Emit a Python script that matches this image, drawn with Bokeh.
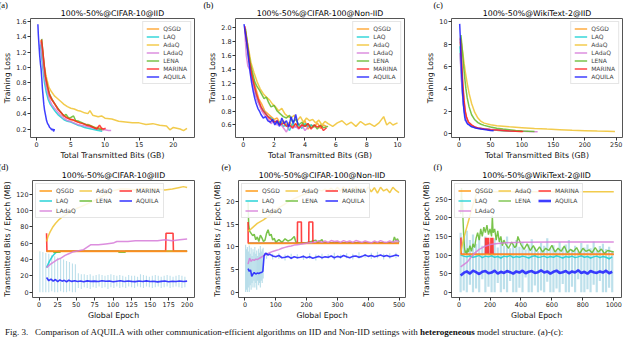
from bokeh.plotting import figure
from bokeh.models import (Range1d, FixedTicker, Legend, LegendItem, Title, Div,
                          NumeralTickFormatter)
from bokeh.layouts import column, row
from bokeh.embed import file_html
from bokeh.resources import INLINE

# ---------------- data: panel (a) CIFAR-10 IID, loss vs GB ----------------
a_qsgd_x = [0.6,0.8,1.0,1.2,1.4,1.7,2.0,2.4,2.8,3.2,3.6,4.0,4.5,5.0,5.5,6.0,6.5,7.0,7.5,8.0,8.5,9.0,9.5,9.8]
a_qsgd_y = [1.35,1.25,1.05,0.88,0.76,0.66,0.60,0.56,0.50,0.45,0.41,0.37,0.35,0.32,0.31,0.29,0.28,0.26,0.26,0.24,0.22,0.22,0.20,0.19]
a_laq_x = [0.55,0.75,0.95,1.15,1.4,1.7,2.0,2.4,2.8,3.2,3.6,4.0,4.5,5.0,5.5,6.0,6.5,7.0,7.5,8.0,8.5,9.0,9.6]
a_laq_y = [1.30,1.12,0.95,0.80,0.68,0.58,0.52,0.47,0.42,0.38,0.35,0.32,0.30,0.29,0.27,0.25,0.24,0.22,0.21,0.20,0.19,0.18,0.17]
a_adaq_x = [0.7,0.9,1.1,1.4,1.8,2.2,2.6,3.0,3.5,4.0,4.5,5.0,5.5,6.0,6.5,7.0,7.5,7.8,8.2,8.6,9.0,9.5,10.0,11.0,12.0,13.0,14.0,15.0,16.0,17.0,18.0,19.0,19.5,20.0,20.5,21.0,21.5,22.0]
a_adaq_y = [1.33,1.18,1.02,0.88,0.74,0.68,0.63,0.60,0.56,0.52,0.49,0.47,0.46,0.44,0.43,0.41,0.40,0.44,0.38,0.37,0.36,0.37,0.34,0.33,0.30,0.29,0.28,0.28,0.26,0.27,0.25,0.24,0.19,0.22,0.21,0.20,0.18,0.21]
a_ladaq_x = [0.6,0.8,1.0,1.2,1.5,1.8,2.2,2.6,3.0,3.5,4.0,4.5,5.0,5.5,6.0,6.5,7.0,7.5,8.0,8.5,9.0,9.5,10.0,10.5,10.9]
a_ladaq_y = [1.33,1.15,0.98,0.85,0.72,0.60,0.52,0.47,0.43,0.38,0.34,0.31,0.30,0.28,0.26,0.25,0.24,0.23,0.22,0.21,0.20,0.19,0.19,0.18,0.18]
a_lena_x = [0.75,0.9,1.1,1.3,1.6,1.9,2.3,2.7,3.1,3.5,4.0,4.3,4.7,5.0,5.4,5.7,6.2,6.7,7.2,7.7,8.2,8.7,9.2,9.6]
a_lena_y = [1.37,1.20,1.02,0.88,0.75,0.65,0.58,0.52,0.47,0.42,0.37,0.39,0.34,0.35,0.37,0.31,0.30,0.28,0.26,0.25,0.23,0.21,0.20,0.19]
a_marina_x = [0.7,0.9,1.1,1.3,1.6,1.9,2.3,2.7,3.1,3.5,3.9,4.3,4.8,5.3,5.8,6.3,6.8,7.3,7.8,8.3,8.8,9.2,9.5,9.8,10.1]
a_marina_y = [1.36,1.22,1.04,0.88,0.75,0.64,0.57,0.52,0.46,0.42,0.38,0.35,0.33,0.32,0.30,0.28,0.27,0.25,0.24,0.22,0.20,0.25,0.21,0.20,0.21]
a_aquila_x = [0.18,0.25,0.35,0.45,0.55,0.65,0.75,0.85,0.95,1.05,1.15,1.3,1.45,1.6,1.75,1.9,2.05,2.2,2.35,2.5,2.6]
a_aquila_y = [1.56,1.42,1.28,1.15,1.05,0.98,0.86,0.72,0.62,0.52,0.45,0.38,0.31,0.27,0.25,0.22,0.21,0.19,0.20,0.17,0.20]

# ---------------- panel (b) CIFAR-100 Non-IID ----------------
b_qsgd_x = [0.1,0.25,0.4,0.55,0.7,0.85,1.0,1.2,1.4,1.6,1.8,2.0,2.2,2.4,2.6,2.8,3.0,3.2,3.4,3.6,3.8,4.0,4.2,4.4,4.6,4.8,5.0,5.2,5.4]
b_qsgd_y = [2.00,1.80,1.55,1.35,1.22,1.10,0.98,0.90,0.80,0.76,0.72,0.68,0.70,0.62,0.66,0.60,0.64,0.58,0.62,0.56,0.60,0.66,0.54,0.60,0.57,0.63,0.55,0.60,0.58]
b_laq_x = [0.1,0.25,0.4,0.55,0.7,0.85,1.0,1.2,1.4,1.6,1.8,2.0,2.2,2.4,2.6,2.8,3.0,3.2,3.4,3.6,3.8,4.0,4.2,4.4,4.6]
b_laq_y = [1.98,1.70,1.48,1.30,1.15,1.02,0.92,0.84,0.78,0.72,0.70,0.66,0.62,0.65,0.58,0.60,0.52,0.62,0.57,0.60,0.55,0.62,0.58,0.60,0.57]
b_adaq_x = [0.1,0.3,0.5,0.7,0.9,1.1,1.3,1.5,1.7,1.9,2.1,2.3,2.5,2.7,2.9,3.1,3.3,3.5,3.7,3.9,4.1,4.3,4.5,4.7,4.9,5.1,5.3,5.5,5.8,6.1,6.4,6.7,7.0,7.3,7.6,7.9,8.2,8.5,8.8,9.1,9.3,9.5,9.7,10.0]
b_adaq_y = [2.00,1.75,1.50,1.35,1.22,1.12,1.05,1.00,0.96,0.90,0.86,0.80,0.84,0.76,0.72,0.70,0.74,0.66,0.72,0.64,0.70,0.66,0.68,0.63,0.67,0.60,0.65,0.62,0.58,0.63,0.66,0.60,0.64,0.58,0.65,0.60,0.62,0.58,0.63,0.72,0.60,0.64,0.60,0.63]
b_ladaq_x = [0.1,0.2,0.3,0.45,0.6,0.75,0.9,1.05,1.2,1.4,1.6,1.8,2.0,2.2,2.4,2.6,2.8,3.0,3.2,3.4,3.6,3.8,4.0,4.2]
b_ladaq_y = [1.95,1.60,1.45,1.38,1.20,1.05,0.95,0.88,0.80,0.74,0.70,0.62,0.66,0.60,0.62,0.56,0.50,0.60,0.55,0.58,0.54,0.60,0.52,0.57]
b_lena_x = [0.15,0.3,0.45,0.6,0.75,0.9,1.05,1.2,1.35,1.5,1.65,1.8,2.0,2.2,2.4,2.6,2.8,3.0,3.2,3.4,3.6,3.8,4.0,4.2,4.4,4.6,4.8,5.0,5.2,5.5]
b_lena_y = [1.98,1.72,1.50,1.35,1.22,1.15,1.10,1.04,0.98,1.00,0.92,0.86,0.88,0.80,0.76,0.72,0.70,0.74,0.64,0.68,0.60,0.64,0.58,0.62,0.56,0.60,0.54,0.60,0.56,0.58]
b_marina_x = [0.1,0.25,0.4,0.55,0.7,0.85,1.0,1.15,1.3,1.45,1.6,1.8,2.0,2.2,2.4,2.6,2.8,3.0,3.2,3.4,3.6,3.8,4.0,4.2,4.4,4.6,4.8,5.0,5.2,5.4]
b_marina_y = [2.02,1.75,1.52,1.32,1.18,1.05,0.95,0.86,0.80,0.76,0.72,0.68,0.64,0.66,0.60,0.63,0.58,0.60,0.56,0.62,0.55,0.60,0.58,0.62,0.54,0.60,0.57,0.59,0.52,0.56]
b_aquila_x = [0.05,0.15,0.25,0.35,0.45,0.55,0.65,0.75,0.85,0.95,1.05,1.15,1.3,1.45,1.6,1.75,1.9,2.05,2.2,2.35,2.5,2.65,2.8,2.95,3.1,3.25,3.4,3.55]
b_aquila_y = [2.05,1.90,1.75,1.55,1.35,1.20,1.08,0.98,0.90,0.84,0.80,0.75,0.70,0.72,0.66,0.64,0.68,0.60,0.66,0.58,0.70,0.62,0.66,0.57,0.72,0.62,0.75,0.60]

# ---------------- panel (c) WikiText-2 IID ----------------
c_qsgd_x = [2,4,6,8,10,12,15,20,25,30,40,50,60,70,80,90,100]
c_qsgd_y = [8.2,6.2,4.2,2.8,1.9,1.4,1.0,0.75,0.6,0.5,0.42,0.36,0.32,0.28,0.25,0.22,0.2]
c_laq_x = [1.5,3,5,7,9,11,14,18,24,30,40,50,60,70,80,88]
c_laq_y = [7.8,5.8,3.9,2.6,1.8,1.3,0.95,0.72,0.58,0.5,0.42,0.36,0.32,0.28,0.25,0.22]
c_adaq_x = [2,4,6,8,10,13,16,20,25,30,35,40,50,60,80,100,120,140,160,180,200,220,235,248]
c_adaq_y = [8.6,8.0,7.2,6.3,5.5,4.5,3.6,2.7,1.9,1.4,1.1,0.95,0.8,0.72,0.62,0.55,0.48,0.42,0.37,0.32,0.28,0.24,0.22,0.2]
c_ladaq_x = [1.5,3,5,7,9,11,14,18,24,30,40,50,60,70,80,90,100,110,125]
c_ladaq_y = [7.2,5.6,3.8,2.6,1.8,1.3,0.95,0.75,0.6,0.52,0.45,0.4,0.36,0.32,0.28,0.25,0.23,0.2,0.18]
c_lena_x = [3,5,7,9,11,13,16,20,25,30,35,40,50,60,70,80,90,100,110,120]
c_lena_y = [8.8,7.6,6.2,5.0,4.0,3.2,2.4,1.7,1.25,1.0,0.85,0.75,0.6,0.5,0.42,0.36,0.3,0.26,0.23,0.2]
c_marina_x = [2,4,6,8,10,12,15,20,25,30,40,50,60,70,80,90,102]
c_marina_y = [8.5,6.5,4.5,3.0,2.0,1.5,1.05,0.8,0.62,0.52,0.43,0.37,0.33,0.29,0.25,0.22,0.2]
c_aquila_x = [1,2,3,4,5,6,7,8,9,10,11,12,14,16,18,20,23,26,30,35,40,45,50,55]
c_aquila_y = [9.8,8.6,7.0,5.6,4.4,3.4,2.6,2.0,1.5,1.2,1.15,1.0,0.85,0.8,0.7,0.62,0.58,0.52,0.48,0.42,0.38,0.33,0.3,0.28]

# ---------------- panel (d) CIFAR-10 IID, MB per epoch ----------------
d_flat_e = [10, 200]
d_qsgd_v = [50, 50]
d_laq_e = [10,12,14,16,18,20,22,24,26,200]
d_laq_v = [30,34,38,41,44,46,48,49,50,50]
d_lena_e = [10,19,20,28,29,107,108,116,117,200]
d_lena_v = [50,50,49,49,50,50,49,49,50,50]
d_marina_e = [10,10.5,171,171.5,181,181.5,200]
d_marina_v = [72,50,50,72,72,50,50]
d_adaq_e = [10,12,15,18,22,26,30,35,40,45,50,55,60,65,70,75,80,85,90,95,100,110,120,130,140,150,160,170,180,190,195,200]
d_adaq_v = [62,68,74,79,84,88,91,94,97,100,102,104,106,108,110,112,115,117,120,122,124,126,126,125,127,126,126,125,126,128,129,128]
d_ladaq_e = [10,15,20,25,30,35,40,45,50,55,60,65,70,75,80,90,100,105,110,120,130,140,150,160,170,180,190,200]
d_ladaq_v = [30,34,37,40,42,45,47,49,50,51,52,55,58,58,58,59,60,62,62,62,63,63,63,63,64,63,64,65]
d_aquila_e = [10,13,16,19,22,25,28,31,34,37,40,44,48,52,56,60,65,70,75,80,85,90,95,100,105,110,115,120,125,130,135,140,145,150,155,160,165,170,175,180,185,190,195,200]
d_aquila_v = [18,14,16,13.5,15.5,13,15,13.5,14.5,12.8,14.6,13.2,14,13,13.6,12.8,13.8,13.2,13.5,13,14,13.3,13.6,12.8,13.4,13.9,13,13.6,13.2,12.9,13.6,13.1,13.8,13,13.4,12.6,13.2,13.7,12.8,13.4,13,13.6,13.1,13.5]
d_band_e = [1,5,9,13,17,21,25,29,33,37,41,45,49,53,57,61,65,69,73,77,81,85,89,93,97,101,105,109,113,117,121,125,129,133,137,141,145,149,153,157,161,165,169,173,177,181,185,189,193,197]
d_band_lo = [0,0,0,0,1,0,0,1,0,0,1,0,0,5,4,6,5,4,6,5,7,5,6,4,6,5,7,5,6,5,7,6,5,7,6,5,7,6,5,6,7,5,6,7,5,6,7,6,5,6]
d_band_hi = [50,49,48,47,45,44,42,41,40,38,37,35,34,23,22,22,21,22,20,21,22,21,20,21,22,21,20,21,20,19,21,20,20,19,22,21,20,19,20,21,20,19,20,21,20,19,20,21,20,19]

# ---------------- panel (e) CIFAR-100 Non-IID ----------------
e_flat_e = [10, 500]
e_qsgd_v = [10.8, 10.8]
e_laq_v = [10.8, 10.8]
e_marina_e = [10,10.5,170,170.5,183,183.5,207,207.5,220,220.5,500]
e_marina_v = [15.5,10.8,10.8,15.5,15.5,10.8,10.8,15.5,15.5,10.8,10.8]
e_lena_e = [10,12,15,20,25,30,35,40,45,50,55,60,65,70,75,80,85,90,95,100,110,120,130,140,150,160,165,170,200,230,235,250,255,300,480,485,490,495,500]
e_lena_v = [20,15,13.5,13,12.5,12.8,11.6,12.2,11.2,12.6,12,11.2,11.5,13,13.8,12.5,12.8,11.5,11.9,11,11.6,11,11.8,11.3,11.6,12.3,11.1,10.9,10.9,11.5,10.9,11.6,10.9,10.9,11,12.2,11.3,11.8,11]
e_ladaq_e = [10,15,20,25,30,35,40,45,50,60,70,80,90,100,110,120,130,140,150,160,170,180,190,200,210,220,230,240,250,260,270,280,290,300,310,320,330,340,350,360,370,380,390,400,410,420,430,440,450,460,470,480,490,500]
e_ladaq_v = [6.2,7.5,6.8,7.2,7.0,7.3,7.2,7.4,7.6,8.0,8.4,8.7,9.0,9.2,9.4,9.7,9.9,10.1,10.2,10.4,10.5,10.6,10.7,10.8,10.9,11.0,11.1,11.4,11.0,11.3,11.0,11.4,11.2,11.3,11.0,11.4,11.1,11.3,11.0,11.4,11.2,11.0,11.3,11.1,10.9,11.3,11.0,11.4,11.1,11.0,11.3,11.0,11.4,11.2]
e_adaq_e = [10,20,30,40,50,60,70,80,90,100,110,120,130,140,150,160,170,180,190,200,210,220,230,240,250,260,270,280,290,300,310,320,330,340,350,360,370,380,390,400,410,420,430,440,450,460,470,480,490,500]
e_adaq_v = [13.5,14.0,14.6,15.2,15.6,16.0,16.5,17.0,17.6,18.2,18.7,19.1,19.5,20.0,20.3,20.7,21.0,21.3,21.6,21.8,22.0,22.2,22.3,22.6,22.4,22.8,22.5,23.0,22.3,23.2,22.4,23.3,22.2,23.0,22.1,23.3,22.4,22.9,22.0,23.3,22.2,23.1,21.9,23.2,22.4,22.8,22.0,23.2,22.5,22.0]
e_aquila_e = [10,14,18,22,26,30,35,40,45,50,55,58,62,66,70,75,80,90,100,110,120,130,140,150,160,170,180,190,200,210,220,230,240,250,260,270,280,290,300,310,320,330,340,350,360,370,380,390,400,410,420,430,440,450,460,470,480,490,500]
e_aquila_v = [5.2,4.6,4.9,3.5,4.0,4.3,4.0,4.2,4.1,4.3,4.4,4.6,8.0,8.6,8.5,8.2,8.4,8.0,7.8,8.1,7.6,7.7,7.9,7.5,7.8,7.6,7.7,7.9,7.6,7.8,7.5,7.7,7.9,7.6,7.8,7.7,8.0,7.6,7.9,7.7,8.1,7.8,7.6,7.9,8.0,7.7,7.9,8.2,7.9,8.1,7.8,8.0,8.2,7.9,8.1,7.8,8.0,8.2,8.0]
e_band_e = [2,5,8,11,14,17,20,23,26,29,32,35,38,41,44,47,50,53,56,59,70,90,110,130,150,170,190,210,230,250,270,290,310,330,350,370,390,410,430,450,470,490]
e_band_lo = [0,0.5,0,1,0,1.5,0.5,2,1,2.5,1,2,0.5,2.5,1.5,2,1,2.5,2,3,7.4,7.2,7.3,7.0,7.2,7.4,7.1,7.3,7.0,7.2,7.4,7.1,7.3,7.5,7.2,7.4,7.6,7.3,7.5,7.2,7.4,7.5]
e_band_hi = [10.5,9.5,10,9,10.3,8.5,9.8,8,9.5,8.8,10,8.5,9.2,8,9.6,8.7,10.2,9,9.5,9.8,8.8,8.5,8.6,8.3,8.5,8.4,8.2,8.6,8.3,8.5,8.4,8.7,8.3,8.6,8.5,8.8,8.4,8.7,8.9,8.5,8.6,8.7]

# ---------------- panel (f) WikiText-2 IID ----------------
f_flat_e = [10, 1000]
f_qsgd_v = [102, 102]
f_marina_e = [10,12,14,15,170,171,173,175,177,179,181,183,185,187,189,191,192,205,206,208,210,212,214,216,218,220,221,1000]
f_marina_v = [146,146,102,102,102,146,102,146,102,146,102,146,102,146,102,146,102,102,146,102,146,102,146,102,146,102,102,102]
f_ep = [10,30,50,70,90,110,130,150,170,190,210,230,250,270,290,310,330,350,370,390,410,430,450,470,490,510,530,550,570,590,610,630,650,670,690,710,730,750,770,790,810,830,850,870,890,910,930,950,970,990]
f_laq_v = [100,97,95,98,94,96,99,93,97,95,98,94,96,92,97,95,99,93,96,94,97,95,92,96,98,94,95,97,93,96,94,98,95,92,96,94,97,93,95,98,94,96,92,95,97,93,96,94,90,95]
f_aquila_v = [45,52,56,50,58,54,49,55,57,51,53,58,50,55,52,57,54,50,56,53,58,51,55,57,52,54,59,53,56,50,55,58,52,54,57,51,56,53,59,52,55,50,57,54,52,56,53,58,51,55]
f_band_lo = [0,5,0,20,0,10,0,35,0,15,0,0,25,0,8,0,30,0,0,12,0,40,0,0,18,0,5,0,28,0,0,10,0,22,0,0,15,0,35,0,0,8,0,20,0,30,0,0,12,0]
f_band_hi = [160,150,165,140,155,130,148,125,150,135,128,145,120,138,125,150,118,130,140,122,135,115,128,142,120,110,132,125,145,118,126,112,135,120,128,140,115,125,110,132,120,128,118,136,112,124,130,116,122,110]
f_ladaq_e = [10,30,50,80,100,130,160,200,250,300,400,600,800,1000]
f_ladaq_v = [68,74,80,95,105,115,122,128,131,133,134,135,135,135]
f_adaq_e = [10,20,30,40,50,60,70,80,90,100,110,120,140,1000]
f_adaq_v = [105,125,145,160,175,190,205,220,235,250,262,268,270,270]
f_lena_e = [10,13,16,19,22,25,30,35,40,45,50,55,60,70,80,90,100,110,120,130,140,150,160,170,180,190,200,210,215,220,230,240,250,260,270,280,290,300,320,340,360,370,380,400,420,440,460,480,500,520,540,560,580,600,620,640,660,680,700,720,740,760,780,800,820,840,860,880,900,920,940,960,980,1000]
f_lena_v = [210,240,280,220,250,200,150,120,105,112,103,118,108,125,110,130,120,145,160,140,170,150,175,160,180,155,170,150,205,160,170,140,165,135,150,125,140,130,118,135,120,125,150,128,115,130,112,125,110,122,108,118,112,126,108,118,110,124,106,115,109,120,104,118,110,114,106,120,108,116,104,112,110,108]

# ---------------- labels / ticks ----------------
names = ["QSGD", "LAQ", "AdaQ", "LAdaQ", "LENA", "MARINA", "AQUILA"]
titles = ["100%-50%@CIFAR-10@IID", "100%-50%@CIFAR-100@Non-IID", "100%-50%@WikiText-2@IID"]
tags_top = ["(a)", "(b)", "(c)"]
tags_bot = ["(d)", "(e)", "(f)"]
a_xticks = [0, 5, 10, 15, 20]
a_yticks = [0.2, 0.4, 0.6, 0.8, 1.0, 1.2, 1.4, 1.6]
b_xticks = [0, 2, 4, 6, 8, 10]
b_yticks = [0.6, 0.8, 1.0, 1.2, 1.4, 1.6, 1.8, 2.0]
c_xticks = [0, 50, 100, 150, 200, 250]
c_yticks = [0, 2, 4, 6, 8, 10]
d_xticks = [0, 25, 50, 75, 100, 125, 150, 175, 200]
d_yticks = [0, 20, 40, 60, 80, 100, 120]
e_xticks = [0, 100, 200, 300, 400, 500]
e_yticks = [0, 5, 10, 15, 20]
f_xticks = [0, 200, 400, 600, 800, 1000]
f_yticks = [0, 50, 100, 150, 200, 250]
caption = ("Fig. 3.&nbsp;&nbsp;&nbsp;Comparison of AQUILA with other communication-efficient algorithms "
           "on IID and Non-IID settings with <b>heterogeneous</b> model structure. (a)-(c):")

COL = {"QSGD": "#ff9d1e", "LAQ": "#14cfd2", "AdaQ": "#f0c22e", "LAdaQ": "#d67ad8",
       "LENA": "#62b92a", "MARINA": "#ff2222", "AQUILA": "#1c1cff"}
BAND = "#add8e6"
FONT = "DejaVu Sans"


def base_fig(w, h, xr, yr, xt, yt, xlab, ylab, bl, br, yfmt=None):
    p = figure(width=w, height=h, x_range=Range1d(*xr), y_range=Range1d(*yr),
               output_backend="svg", toolbar_location=None,
               min_border_left=bl, min_border_right=br, min_border_top=0, min_border_bottom=0)
    p.xgrid.visible = False
    p.ygrid.visible = False
    p.outline_line_color = "#555555"
    p.outline_line_width = 1
    p.outline_line_alpha = 1
    p.xaxis.ticker = FixedTicker(ticks=xt)
    p.yaxis.ticker = FixedTicker(ticks=yt)
    if yfmt:
        p.yaxis.formatter = NumeralTickFormatter(format=yfmt)
    p.xaxis.axis_label = xlab
    p.yaxis.axis_label = ylab
    for ax in (p.xaxis[0], p.yaxis[0]):
        ax.axis_line_color = None
        ax.major_tick_in = 0
        ax.major_tick_out = 3
        ax.major_tick_line_color = "#333333"
        ax.minor_tick_line_color = None
        ax.major_label_text_font = FONT
        ax.major_label_text_font_size = "6.4px"
        ax.major_label_text_color = "#222222"
        ax.major_label_text_line_height = 1.0
        ax.major_label_standoff = 1
        ax.axis_label_text_font = FONT
        ax.axis_label_text_font_size = "7.8px"
        ax.axis_label_text_font_style = "normal"
        ax.axis_label_text_color = "#111111"
        ax.axis_label_text_line_height = 1.0
        ax.axis_label_standoff = 1
    return p


def head(p, tag, title, tag_dx):
    p.add_layout(Title(text=title, align="center", text_font=FONT, text_font_size="7.8px",
                       text_font_style="normal", text_color="black", standoff=1), "above")
    p.add_layout(Title(text=tag, align="left", offset=tag_dx, text_font="Liberation Serif",
                       text_font_size="8.5px", text_font_style="normal", text_color="black",
                       standoff=-6), "above")


def style_legend(lg):
    lg.label_text_font = FONT
    lg.label_text_font_size = "6px"
    lg.label_height = 7
    lg.glyph_height = 7
    lg.glyph_width = 13
    lg.label_standoff = 4
    lg.spacing = 1
    lg.padding = 3
    lg.margin = 3
    lg.border_line_color = "#cccccc"
    lg.border_line_width = 1
    lg.background_fill_color = "white"
    lg.background_fill_alpha = 0.85


def top_panel(w, xr, yr, xt, yt, bl, br, series, tag, title, tag_dx):
    p = base_fig(w, 162, xr, yr, xt, yt, "Total Transmitted Bits (GB)", "Training Loss",
                 bl, br, yfmt="0.0" if isinstance(yt[0], float) else None)
    head(p, tag, title, tag_dx)
    items = []
    for name, (xs, ys) in zip(names, series):
        r = p.line(xs, ys, line_color=COL[name], line_width=1.5, line_alpha=0.85)
        items.append(LegendItem(label=name, renderers=[r]))
    lg = Legend(items=items, location="top_right")
    style_legend(lg)
    p.add_layout(lg)
    return p


def bottom_panel(w, xr, yr, xt, yt, bl, br, band, lines, tag, title, tag_dx, band_w):
    p = base_fig(w, 160, xr, yr, xt, yt, "Global Epoch", "Transmitted Bits / Epoch (MB)", bl, br)
    head(p, tag, title, tag_dx)
    be, blo, bhi = band
    p.segment(x0=be, y0=blo, x1=be, y1=bhi, line_color=BAND, line_width=band_w, line_alpha=0.8)
    rend = {}
    for name in ["LAQ", "LENA", "MARINA", "QSGD", "AdaQ", "LAdaQ", "AQUILA"]:
        xs, ys, lw = lines[name]
        rend[name] = p.line(xs, ys, line_color=COL[name], line_width=lw, line_alpha=0.85)
    order = ["QSGD", "AdaQ", "MARINA", "LAQ", "LENA", "AQUILA", "LAdaQ"]
    lg = Legend(items=[LegendItem(label=n, renderers=[rend[n]]) for n in order],
                location="top_left", orientation="horizontal", ncols=3)
    style_legend(lg)
    lg.spacing = 3
    p.add_layout(lg)
    return p


pa = top_panel(199, (-0.9, 23.1), (0.09, 1.635), a_xticks, a_yticks, 25, 5,
               [(a_qsgd_x, a_qsgd_y), (a_laq_x, a_laq_y), (a_adaq_x, a_adaq_y), (a_ladaq_x, a_ladaq_y),
                (a_lena_x, a_lena_y), (a_marina_x, a_marina_y), (a_aquila_x, a_aquila_y)],
               tags_top[0], titles[0], -32)
pb = top_panel(218, (-0.5, 10.45), (0.42, 2.13), b_xticks, b_yticks, 36, 13,
               [(b_qsgd_x, b_qsgd_y), (b_laq_x, b_laq_y), (b_adaq_x, b_adaq_y), (b_ladaq_x, b_ladaq_y),
                (b_lena_x, b_lena_y), (b_marina_x, b_marina_y), (b_aquila_x, b_aquila_y)],
               tags_top[1], titles[1], -32)
pc = top_panel(207, (-12, 260), (-0.33, 10.28), c_xticks, c_yticks, 34, 2,
               [(c_qsgd_x, c_qsgd_y), (c_laq_x, c_laq_y), (c_adaq_x, c_adaq_y), (c_ladaq_x, c_ladaq_y),
                (c_lena_x, c_lena_y), (c_marina_x, c_marina_y), (c_aquila_x, c_aquila_y)],
               tags_top[2], titles[2], -18)

pd_ = bottom_panel(202, (-9, 210), (-6.5, 136.5), d_xticks, d_yticks, 23, 8,
                   (d_band_e, d_band_lo, d_band_hi),
                   {"QSGD": (d_flat_e, d_qsgd_v, 1.8), "LAQ": (d_laq_e, d_laq_v, 1.6),
                    "AdaQ": (d_adaq_e, d_adaq_v, 1.5), "LAdaQ": (d_ladaq_e, d_ladaq_v, 1.5),
                    "LENA": (d_lena_e, d_lena_v, 1.6), "MARINA": (d_marina_e, d_marina_v, 1.6),
                    "AQUILA": (d_aquila_e, d_aquila_v, 1.6)},
                   tags_bot[0], titles[0], -34, 1.1)
pe = bottom_panel(215, (-21, 521), (-1.2, 24.7), e_xticks, e_yticks, 36, 12,
                  (e_band_e, e_band_lo, e_band_hi),
                  {"QSGD": (e_flat_e, e_qsgd_v, 1.8), "LAQ": (e_flat_e, e_laq_v, 1.6),
                   "AdaQ": (e_adaq_e, e_adaq_v, 1.5), "LAdaQ": (e_ladaq_e, e_ladaq_v, 1.5),
                   "LENA": (e_lena_e, e_lena_v, 1.5), "MARINA": (e_marina_e, e_marina_v, 1.6),
                   "AQUILA": (e_aquila_e, e_aquila_v, 1.6)},
                  tags_bot[1], titles[1], -17, 1.2)
pf = bottom_panel(207, (-49, 1050), (-14, 300), f_xticks, f_yticks, 34, 3,
                  (f_ep, f_band_lo, f_band_hi),
                  {"QSGD": (f_flat_e, f_qsgd_v, 1.8), "LAQ": (f_ep, f_laq_v, 1.5),
                   "AdaQ": (f_adaq_e, f_adaq_v, 1.5), "LAdaQ": (f_ladaq_e, f_ladaq_v, 1.5),
                   "LENA": (f_lena_e, f_lena_v, 1.4), "MARINA": (f_marina_e, f_marina_v, 1.6),
                   "AQUILA": (f_ep, f_aquila_v, 2.6)},
                  tags_bot[2], titles[2], -18, 2.2)

cap = Div(text=caption, width=624, height=10,
          styles={"font-family": "Liberation Serif", "font-size": "9px", "line-height": "10px",
                  "white-space": "nowrap", "overflow": "hidden", "color": "#111111"})

layout = column(row(pa, pb, pc), row(pd_, pe, pf), cap)
open("out.html", "w").write(file_html(layout, INLINE))
